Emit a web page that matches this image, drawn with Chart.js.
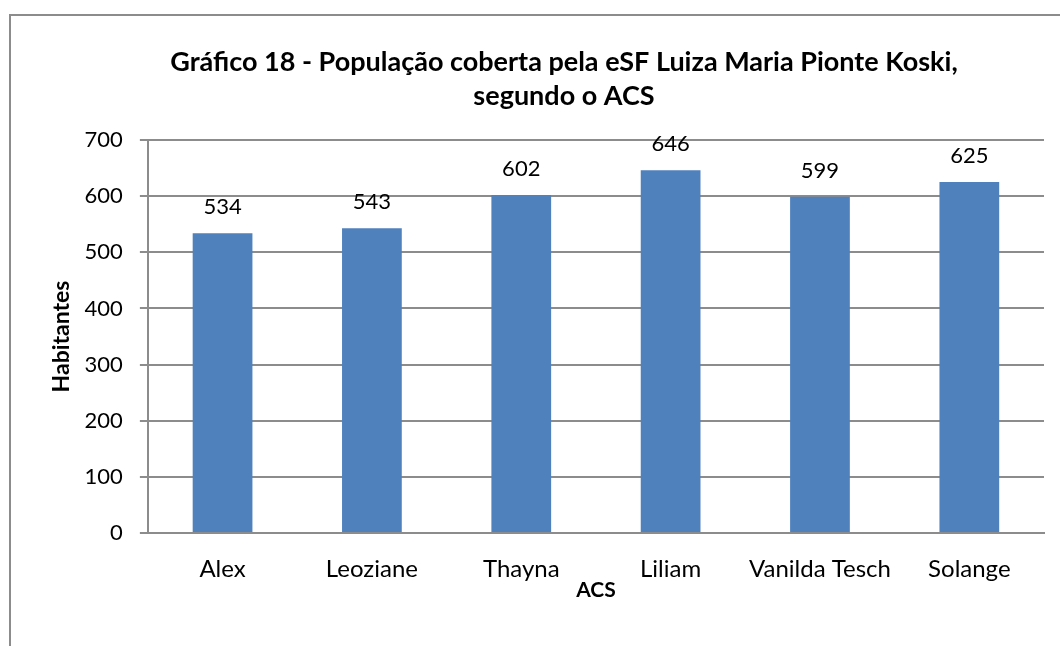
<!DOCTYPE html>
<html>
<head>
<meta charset="utf-8">
<script src="https://cdn.jsdelivr.net/npm/chart.js@4"></script>
<style>
  body { margin: 0; background: #fff; }
  .wrap { position: relative; width: 1060px; height: 646px; }
  .frame { position: absolute; left: 9px; top: 14px; width: 1060px; height: 640px;
    border-left: 2px solid #8c8c8c; border-top: 2px solid #8c8c8c; }
  canvas { position: absolute; left: 0; top: 0; }
</style>
</head>
<body>
<div class="wrap">
  <div class="frame"></div>
  <canvas id="chart" width="1060" height="646"></canvas>
</div>
<script>
// dados
const categories = ['Alex', 'Leoziane', 'Thayna', 'Liliam', 'Vanilda Tesch', 'Solange'];
const habitantes = [534, 543, 602, 646, 599, 625];
const titleLines = ['Gráfico 18 - População coberta pela eSF Luiza Maria Pionte Koski,', 'segundo o ACS'];

const FONT = 'Lato, "Noto Sans", sans-serif';

// titulo (centrado como no original, um pouco à esquerda do centro)
const titleText = {
  id: 'titleText',
  afterDraw(chart) {
    const ctx = chart.ctx;
    ctx.save();
    ctx.font = 'bold 27px ' + FONT;
    ctx.fillStyle = '#000';
    ctx.textAlign = 'center';
    ctx.textBaseline = 'alphabetic';
    ctx.fillText(titleLines[0], 564, 71);
    ctx.fillText(titleLines[1], 564, 105);
    ctx.restore();
  }
};

// valores acima das barras
const valueLabels = {
  id: 'valueLabels',
  afterDatasetsDraw(chart) {
    const ctx = chart.ctx;
    const meta = chart.getDatasetMeta(0);
    ctx.save();
    ctx.font = '22px ' + FONT;
    ctx.fillStyle = '#000';
    ctx.textAlign = 'center';
    ctx.textBaseline = 'alphabetic';
    meta.data.forEach(function (bar, i) {
      ctx.fillText(habitantes[i], bar.x, bar.y - 19);
    });
    ctx.restore();
  }
};

new Chart(document.getElementById('chart'), {
  type: 'bar',
  data: {
    labels: categories,
    datasets: [{
      data: habitantes,
      backgroundColor: '#4f81bd',
      categoryPercentage: 1,
      barPercentage: 0.4
    }]
  },
  options: {
    responsive: false,
    animation: false,
    layout: { padding: { left: 38, right: 16, top: 140, bottom: 45 } },
    plugins: {
      legend: { display: false },
      tooltip: { enabled: false },
      title: { display: false }
    },
    scales: {
      x: {
        grid: { display: false },
        border: { color: '#8c8c8c', width: 2 },
        ticks: { color: '#000', font: { family: FONT, size: 24, lineHeight: 1 }, padding: 16,
          maxRotation: 0, minRotation: 0, autoSkip: false },
        title: { display: true, text: 'ACS', color: '#000', padding: { top: -17, bottom: 0 },
          font: { family: FONT, size: 21, weight: 'bold', lineHeight: 1 } }
      },
      y: {
        min: 0,
        max: 700,
        ticks: { stepSize: 100, color: '#000', font: { family: FONT, size: 22 }, padding: 17 },
        grid: { color: '#8c8c8c', lineWidth: 2, tickLength: 8 },
        border: { color: '#8c8c8c', width: 2 },
        title: { display: true, text: 'Habitantes', color: '#000', padding: { top: 10, bottom: -8 },
          font: { family: FONT, size: 23, weight: 'bold', lineHeight: 1.2 } }
      }
    }
  },
  plugins: [valueLabels, titleText]
});
</script>
</body>
</html>
